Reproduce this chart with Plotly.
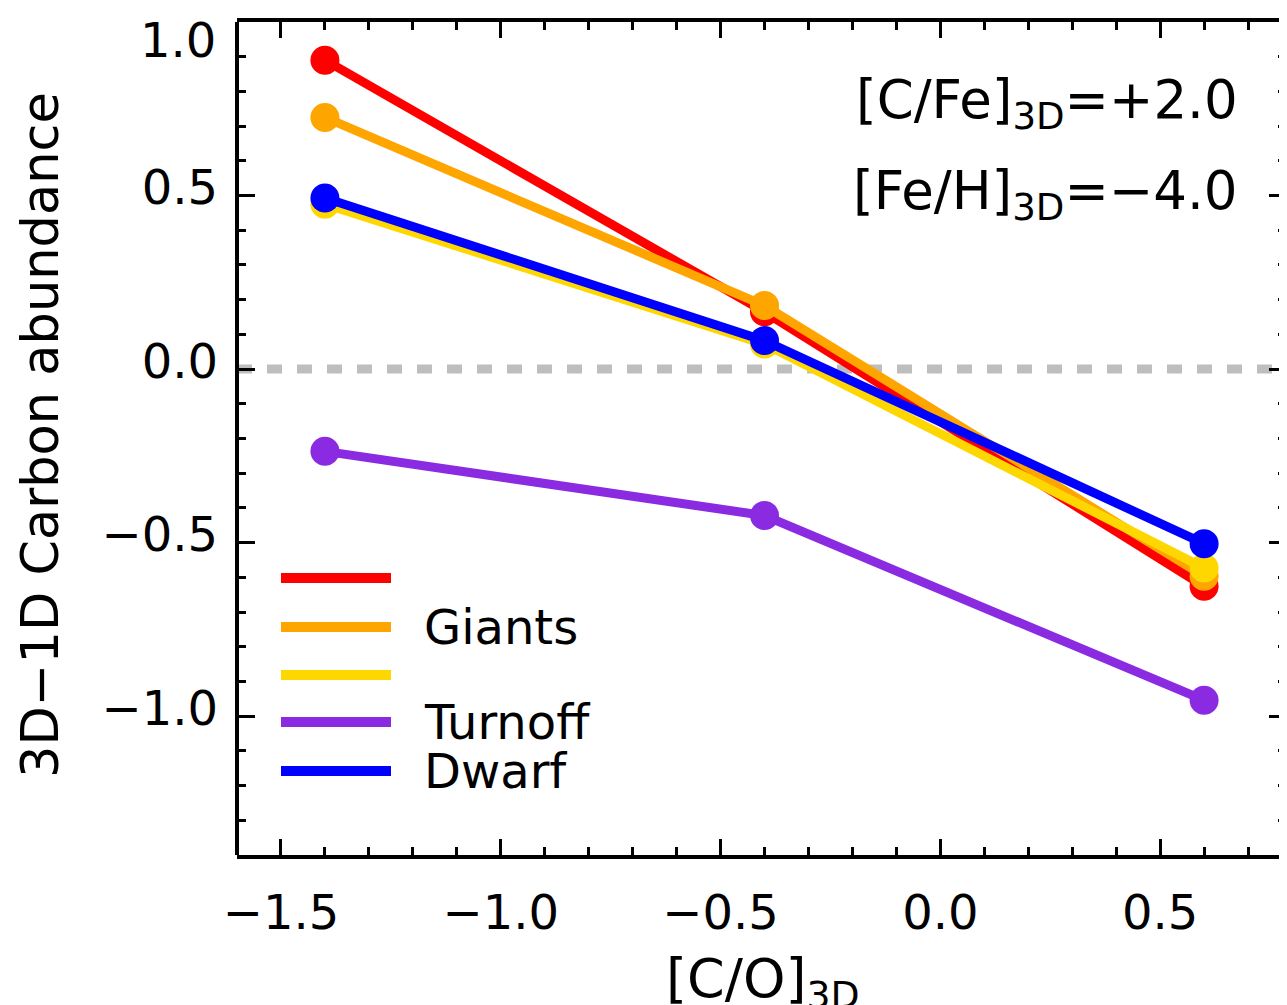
import plotly.graph_objects as go

# ---- data ----
co_3d = [-1.4, -0.4, 0.6]
series_names = ["Giants red", "Giants orange", "Giants yellow", "Turnoff", "Dwarf"]
series_colors = ["#FF0000", "#FFA500", "#FFD700", "#8A2BE2", "#0000FF"]
legend_labels = ["", "Giants", "", "Turnoff", "Dwarf"]
red_vals = [0.89, 0.165, -0.626]
orange_vals = [0.725, 0.183, -0.597]
yellow_vals = [0.475, 0.072, -0.573]
purple_vals = [-0.237, -0.422, -0.954]
blue_vals = [0.493, 0.082, -0.503]
series_vals = [red_vals, orange_vals, yellow_vals, purple_vals, blue_vals]

x_tickvals = [-1.5, -1.0, -0.5, 0.0, 0.5]
x_ticktext = ["\u22121.5", "\u22121.0", "\u22120.5", "0.0", "0.5"]
y_tickvals = [-1.0, -0.5, 0.0, 0.5, 1.0]
y_ticktext = ["\u22121.0", "\u22120.5", "0.0", "0.5", ""]  # top label placed separately

FONT = "DejaVu Sans"
OFF = 8  # default page body margin
W, H = 1287 - OFF, 1005 - OFF
ML, MR, MT, MB = 237 - OFF, 0, 22 - OFF, 150
pw = W - ML - MR
ph = H - MT - MB


def px_x(sx):
    return (sx - OFF - ML) / pw


def px_y(sy):
    return (H - MB - (sy - OFF)) / ph


fig = go.Figure()
for name, col, vals in zip(series_names, series_colors, series_vals):
    fig.add_trace(go.Scatter(
        x=co_3d, y=vals, mode="lines+markers", name=name,
        line=dict(color=col, width=9),
        marker=dict(color=col, size=29, line=dict(width=0)),
        showlegend=False,
    ))

# zero line
fig.add_shape(type="line", xref="paper", yref="y", x0=0, x1=1, y0=0, y1=0,
              line=dict(color="#BEBEBE", width=9, dash="15px,15px"), layer="below")
# left axis line (right axis lies just outside the frame)
fig.add_shape(type="line", xref="paper", yref="paper", x0=0, x1=0, y0=0, y1=1,
              line=dict(color="black", width=4))

# legend drawn manually
leg_y_px = [578, 627, 675, 722, 771]
for col, lab, py in zip(series_colors, legend_labels, leg_y_px):
    fig.add_shape(type="line", xref="paper", yref="paper",
                  x0=px_x(281), x1=px_x(391), y0=px_y(py), y1=px_y(py),
                  line=dict(color=col, width=10))
    if lab:
        fig.add_annotation(xref="paper", yref="paper", x=px_x(422), y=px_y(py),
                           text=lab, showarrow=False, xanchor="left", yanchor="middle",
                           font=dict(family=FONT, size=48, color="black"))

# top y tick label (sits just below the frame top)
fig.add_annotation(xref="paper", yref="paper", x=px_x(218), y=px_y(40),
                   text="1.0", showarrow=False, xanchor="right", yanchor="middle",
                   font=dict(family=FONT, size=48, color="black"))

# top-right annotations
fig.add_annotation(xref="paper", yref="paper", x=px_x(1240), y=px_y(103),
                   text="[C/Fe]<sub>3D</sub>=+2.0", showarrow=False,
                   xanchor="right", yanchor="middle",
                   font=dict(family=FONT, size=53, color="black"))
fig.add_annotation(xref="paper", yref="paper", x=px_x(1240), y=px_y(195),
                   text="[Fe/H]<sub>3D</sub>=\u22124.0", showarrow=False,
                   xanchor="right", yanchor="middle",
                   font=dict(family=FONT, size=53, color="black"))

# axis titles
fig.add_annotation(xref="paper", yref="paper", x=px_x(40), y=px_y(435),
                   text="3D\u22121D Carbon abundance", textangle=-90, showarrow=False,
                   xanchor="center", yanchor="middle",
                   font=dict(family=FONT, size=51, color="black"))
fig.add_annotation(xref="paper", yref="paper", x=px_x(763), y=px_y(982),
                   text="[C/O]<sub>3D</sub>", showarrow=False,
                   xanchor="center", yanchor="middle",
                   font=dict(family=FONT, size=54, color="black"))

fig.update_layout(
    template="none",
    width=W, height=H,
    margin=dict(l=ML, r=MR, t=MT, b=MB, pad=0, autoexpand=False),
    plot_bgcolor="white", paper_bgcolor="white",
    font=dict(family=FONT, size=48, color="black"),
    xaxis=dict(
        range=[-1.6, 0.7886], tickvals=x_tickvals, ticktext=x_ticktext,
        automargin=False,
        showgrid=False, zeroline=False,
        showline=True, linecolor="black", linewidth=4, mirror="ticks",
        ticks="inside", ticklen=16, tickwidth=3, tickcolor="black",
        ticklabelstandoff=12,
        minor=dict(dtick=0.1, tick0=0, ticks="inside", ticklen=8, tickwidth=3,
                   tickcolor="black", showgrid=False),
        tickfont=dict(family=FONT, size=48, color="black"),
    ),
    yaxis=dict(
        range=[-1.4, 1.0], tickvals=y_tickvals, ticktext=y_ticktext,
        automargin=False,
        showgrid=False, zeroline=False,
        showline=False, mirror="ticks",
        ticks="inside", ticklen=18, tickwidth=3, tickcolor="black",
        ticklabelstandoff=18, ticklabelshift=-8,
        minor=dict(dtick=0.1, tick0=0, ticks="inside", ticklen=9, tickwidth=3,
                   tickcolor="black", showgrid=False),
        tickfont=dict(family=FONT, size=48, color="black"),
    ),
)

fig.write_html("out.html")
